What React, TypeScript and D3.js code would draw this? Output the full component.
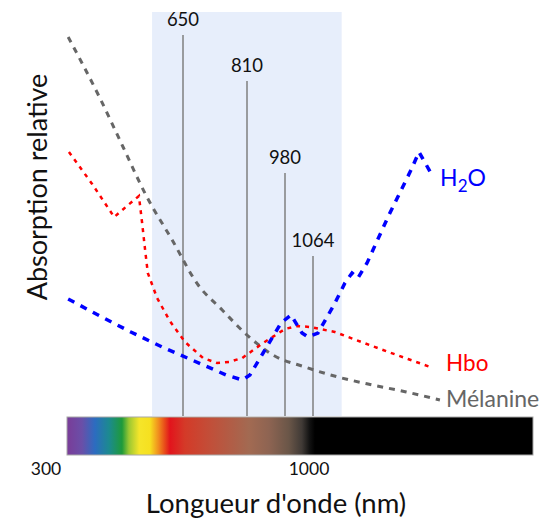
import React from "react";
import * as d3 from "d3";

// Wavelengths (nm) and relative absorption (0–100) for each absorber
const melaninNm = [353, 435, 495, 554, 622, 688, 748, 810, 926, 1040, 1170, 1317, 1461, 1604];
const melaninAbs = [94.75, 79.5, 67.25, 55.25, 44, 32.75, 26.5, 20.25, 15.25, 12.25, 9.75, 7.75, 6, 4];

const hboNm = [355, 415, 472, 505, 536, 544, 552, 559, 583, 616, 655, 700, 735, 765, 798, 882, 980, 1016, 1055, 1157, 1315, 1468, 1575];
const hboAbs = [66, 58, 49.75, 52.5, 55, 48.5, 41.5, 35.75, 29.5, 23.75, 18.5, 14.5, 13.25, 13.5, 14.5, 18.25, 21.75, 22.5, 22.25, 21, 17.5, 14.25, 12];

const waterNm = [353, 435, 515, 596, 678, 758, 798, 823, 882, 962, 998, 1031, 1049, 1085, 1153, 1200, 1230, 1255, 1294, 1383, 1481, 1515, 1575];
const waterAbs = [29.25, 25, 21, 17.25, 13.75, 10.25, 9, 10.25, 15.75, 23.25, 25.25, 20.75, 19.75, 20.75, 27.75, 33.25, 35.75, 34.5, 38.25, 49.75, 61.5, 66, 59.75];

// Laser wavelengths and the height of each marker line
const laserNm = [650, 810, 980, 1064];
const laserLevel = [95.25, 83.75, 60.75, 40];

// Optical window highlighted behind the curves
const windowNm = [570, 1186];
const windowTop = 101;

// Spectrum axis
const spectrumTicks = [300, 1000];
const spectrumRange = [350, 2000];

const spectrumStops: [number, string][] = [
  [0, "#7A3C98"], [0.032, "#6A4FA8"], [0.06, "#2C6CC0"], [0.09, "#1C8A90"],
  [0.118, "#1E9A3A"], [0.133, "#9CC832"], [0.155, "#F5E52A"], [0.178, "#F6E020"],
  [0.197, "#F08A1E"], [0.21, "#E84A1A"], [0.221, "#E2141C"], [0.253, "#D43A28"],
  [0.311, "#C0503A"], [0.391, "#A26A52"], [0.433, "#8E6452"], [0.476, "#6A5648"],
  [0.504, "#403A36"], [0.521, "#111111"], [0.532, "#000000"], [1, "#000000"],
];

const FONT = "Lato, 'Open Sans', sans-serif";

export default function App() {
  const W = 544;
  const H = 520;

  // Schematic (non-uniform) wavelength scale for the curves and markers
  const x = d3
    .scaleLinear()
    .domain([350, 650, 810, 980, 1064, 2000])
    .range([67, 183, 247, 285, 313, 533]);
  const y = d3.scaleLinear().domain([0, 100]).range([416, 16]);
  // Scale for the tick labels under the spectrum bar
  const xTicks = d3.scaleLog().domain([300, 1000]).range([46, 309]);

  const line = d3
    .line<[number, number]>()
    .x((d) => x(d[0]))
    .y((d) => y(d[1]));
  const smooth = d3
    .line<[number, number]>()
    .x((d) => x(d[0]))
    .y((d) => y(d[1]))
    .curve(d3.curveMonotoneX);

  const zip = (a: number[], b: number[]) => a.map((v, i) => [v, b[i]] as [number, number]);
  const melanin = zip(melaninNm, melaninAbs);
  const hbo = zip(hboNm, hboAbs);
  const water = zip(waterNm, waterAbs);

  const barX0 = x(spectrumRange[0]);
  const barX1 = x(spectrumRange[1]);
  const barY0 = y(0) + 1;
  const barH = 38;

  const last = (arr: [number, number][]) => arr[arr.length - 1];
  const wEnd = last(water);
  const hEnd = last(hbo);
  const mEnd = last(melanin);

  return (
    <svg
      width={W}
      height={H}
      style={{ position: "absolute", left: 0, top: 0, background: "#fff" }}
      fontFamily={FONT}
    >
      <defs>
        <linearGradient id="spectrum" x1="0" x2="1" y1="0" y2="0">
          {spectrumStops.map(([o, c], i) => (
            <stop key={i} offset={o} stopColor={c} />
          ))}
        </linearGradient>
      </defs>

      {/* optical window */}
      <rect
        x={x(windowNm[0])}
        y={y(windowTop)}
        width={x(windowNm[1]) - x(windowNm[0])}
        height={y(0) - y(windowTop)}
        fill="#E7EEFB"
      />

      {/* laser wavelength markers */}
      {laserNm.map((nm, i) => (
        <g key={nm}>
          <line
            x1={x(nm)}
            x2={x(nm)}
            y1={y(laserLevel[i])}
            y2={y(0)}
            stroke="#7f7f7f"
            strokeWidth={1.5}
          />
          <text
            x={x(nm)}
            y={y(laserLevel[i]) - 9}
            textAnchor="middle"
            fontSize={18.5}
            fill="#111"
          >
            {nm}
          </text>
        </g>
      ))}

      {/* absorption curves */}
      <path
        d={smooth(melanin) || ""}
        fill="none"
        stroke="#666"
        strokeWidth={3}
        strokeDasharray="6 6"
      />
      <path
        d={line(hbo) || ""}
        fill="none"
        stroke="#FF0000"
        strokeWidth={2.5}
        strokeDasharray="4 5"
      />
      <path
        d={line(water) || ""}
        fill="none"
        stroke="#0000FF"
        strokeWidth={3.5}
        strokeDasharray="7 7"
      />

      {/* curve labels */}
      <text x={x(wEnd[0]) + 7} y={y(wEnd[1]) + 9} fontSize={23} fill="#0000FF">
        H<tspan dy={6} fontSize={17}>2</tspan>
        <tspan dy={-6}>O</tspan>
      </text>
      <text x={x(hEnd[0]) + 13} y={y(hEnd[1]) + 3} fontSize={22.5} fill="#FF0000">
        Hbo
      </text>
      <text x={x(mEnd[0]) + 6} y={y(mEnd[1]) + 7} fontSize={23} fill="#666">
        Mélanine
      </text>

      {/* spectrum bar */}
      <rect
        x={barX0}
        y={barY0}
        width={barX1 - barX0}
        height={barH}
        fill="url(#spectrum)"
        stroke="#a8a8a8"
        strokeWidth={1}
      />
      {spectrumTicks.map((t) => (
        <text
          key={t}
          x={xTicks(t)}
          y={barY0 + barH + 20}
          textAnchor="middle"
          fontSize={17.5}
          fill="#111"
        >
          {t}
        </text>
      ))}

      {/* axis titles */}
      <text x={276} y={513} textAnchor="middle" fontSize={27.5} fill="#111">
        Longueur d'onde (nm)
      </text>
      <text
        transform="translate(47,187) rotate(-90)"
        textAnchor="middle"
        fontSize={27}
        fill="#111"
      >
        Absorption relative
      </text>
    </svg>
  );
}
